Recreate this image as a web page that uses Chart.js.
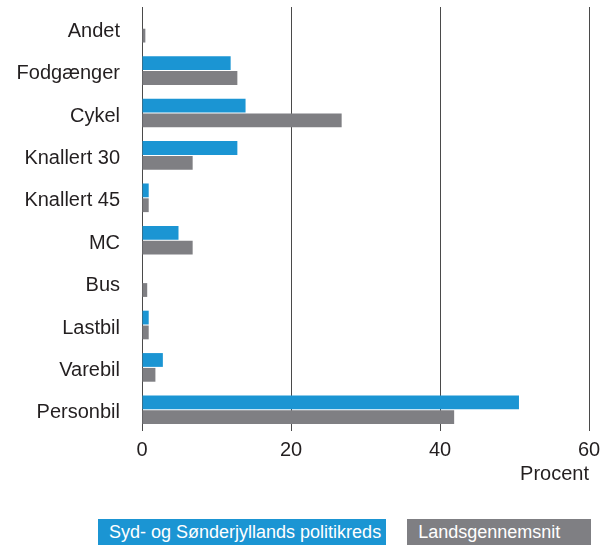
<!DOCTYPE html>
<html>
<head>
<meta charset="utf-8">
<script src="https://cdn.jsdelivr.net/npm/chart.js@4"></script>
<style>
    body { margin: 0; background: #fff; font-family: "Liberation Sans", Arial, sans-serif; }
    #wrap { position: relative; width: 610px; height: 545px; }
    #chart-box { position: absolute; left: 0; top: 0; width: 610px; height: 486px; }
    #legend { position: absolute; left: 98px; top: 519px; display: flex; gap: 21px; }
    .leg { color: #fff; font-size: 18px; height: 26px; line-height: 26px; padding: 0 5px 0 11px; }
</style>
</head>
<body>
<div id="wrap">
    <div id="chart-box"><canvas id="ulykker-chart"></canvas></div>
    <div id="legend"></div>
</div>
<script>
// Trafikanttyper, procent
const categories = ['Andet', 'Fodgænger', 'Cykel', 'Knallert 30', 'Knallert 45', 'MC', 'Bus', 'Lastbil', 'Varebil', 'Personbil'];
const kredsValues = [0, 11.9, 13.9, 12.8, 0.9, 4.9, 0, 0.9, 2.8, 50.6];
const landsValues = [0.45, 12.8, 26.8, 6.8, 0.9, 6.8, 0.7, 0.9, 1.8, 41.9];
const xTicks = [0, 20, 40, 60];
const seriesNames = ['Syd- og Sønderjyllands politikreds', 'Landsgennemsnit'];
const seriesColors = ['#1b95d3', '#7f7f83'];

const font = { family: '"Liberation Sans", Arial, sans-serif', size: 20 };

const data = {
    labels: categories,
    datasets: [
        { label: seriesNames[0], data: kredsValues, backgroundColor: seriesColors[0] },
        { label: seriesNames[1], data: landsValues, backgroundColor: seriesColors[1] }
    ]
};

new Chart(document.getElementById('ulykker-chart').getContext('2d'), {
    type: 'bar',
    data,
    options: {
        indexAxis: 'y',
        responsive: true,
        maintainAspectRatio: false,
        animation: false,
        layout: { padding: { top: 7, right: 21, left: 0, bottom: 0 } },
        datasets: { bar: { barPercentage: 0.93, categoryPercentage: 0.7 } },
        plugins: {
            legend: { display: false },
            tooltip: { enabled: false }
        },
        scales: {
            x: {
                min: 0,
                max: 60,
                afterBuildTicks: axis => { axis.ticks = xTicks.map(v => ({ value: v })); },
                grid: { color: '#4a4a4a', lineWidth: 1, drawTicks: false },
                border: { display: false },
                ticks: { color: '#231f20', font, padding: 7 },
                title: {
                    display: true,
                    text: 'Procent',
                    align: 'end',
                    color: '#231f20',
                    font,
                    padding: { top: -7, bottom: 0 }
                }
            },
            y: {
                grid: { display: false, drawTicks: false },
                border: { display: false },
                ticks: { color: '#231f20', font, padding: 22, labelOffset: 3 },
                afterFit: axis => {
                    axis.width = 142;
                    axis.paddingTop = 0;
                    axis.paddingBottom = 0;
                }
            }
        }
    }
});

// Forklaring som farvede felter
const legend = document.getElementById('legend');
seriesNames.forEach((name, i) => {
    const el = document.createElement('div');
    el.className = 'leg';
    el.style.background = seriesColors[i];
    if (i === 1) el.style.paddingRight = '31px';
    el.textContent = name;
    legend.appendChild(el);
});
</script>
</body>
</html>
